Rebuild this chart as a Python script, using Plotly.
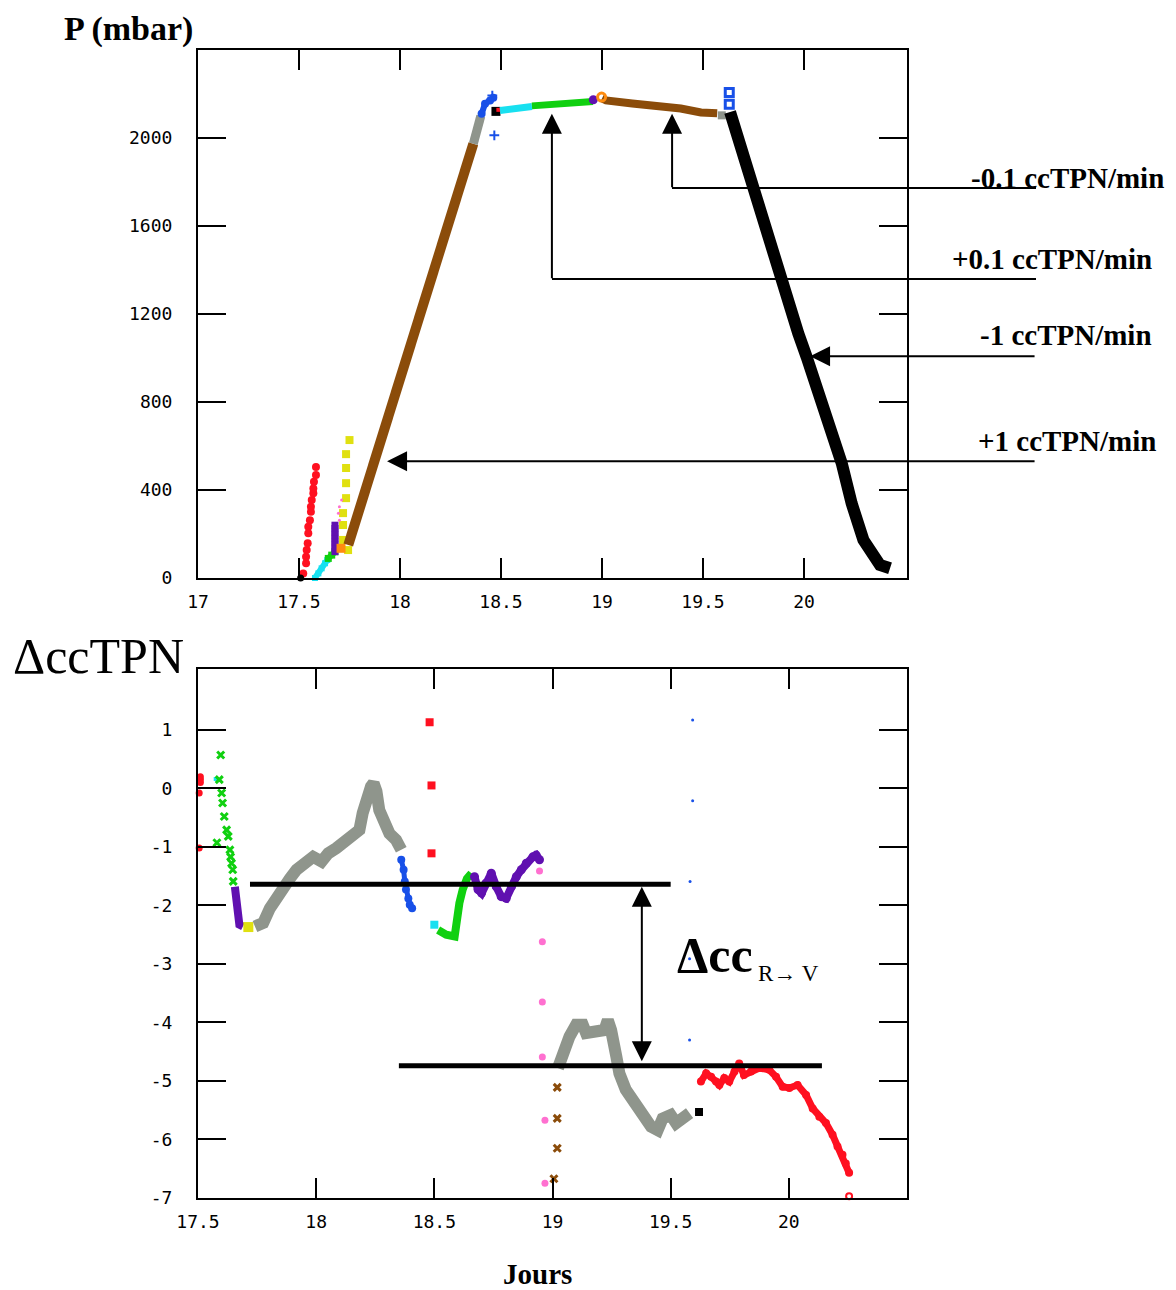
import plotly.graph_objects as go

# ---------------- TOP PANEL DATA (Jours, P mbar) ----------------
top_red_x = [17.521, 17.535, 17.535, 17.538, 17.543, 17.546, 17.546, 17.554, 17.559, 17.559, 17.563, 17.571, 17.571, 17.574, 17.584, 17.584]
top_red_y = [21, 67, 97, 127, 158, 203, 233, 263, 301, 324, 354, 385, 407, 437, 468, 505]
top_black_dot_x = [17.508]
top_black_dot_y = [0]
top_cyan_x = [17.579, 17.596, 17.612, 17.629, 17.640]
top_cyan_y = [0, 21, 44, 67, 82]
top_green_x = [17.645, 17.662, 17.678]
top_green_y = [89, 104, 119]
top_purple_x = [17.678, 17.678, 17.678, 17.678, 17.678, 17.678, 17.678, 17.678, 17.678]
top_purple_y = [120, 135, 150, 165, 180, 195, 210, 225, 240]
top_orange_x = [17.708]
top_orange_y = [135]
top_yellow_x = [17.750, 17.733, 17.733, 17.733, 17.733, 17.718, 17.718, 17.718, 17.743]
top_yellow_y = [627, 563, 500, 431, 363, 295, 241, 173, 127]
top_pink_x = [17.711, 17.700, 17.695, 17.700]
top_pink_y = [354, 324, 294, 263]
top_brown_up_x = [17.744, 17.786, 17.835, 17.885, 17.934, 18.000, 18.066, 18.165, 18.264, 18.363]
top_brown_up_y = [150, 276, 420, 566, 712, 905, 1098, 1392, 1684, 1974]
top_gray_x = [18.363, 18.380, 18.400]
top_gray_y = [1974, 2040, 2100]
top_blue_x = [18.404, 18.421, 18.446, 18.462]
top_blue_y = [2110, 2156, 2171, 2183]
top_blue_plus_x = [18.457, 18.467]
top_blue_plus_y = [2193, 2012]
top_black_sq_x = [18.475]
top_black_sq_y = [2121]
top_red_sq_x = [18.487]
top_red_sq_y = [2128]
top_cyan2_x = [18.495, 18.569, 18.653]
top_cyan2_y = [2125, 2134, 2143]
top_green2_x = [18.653, 18.807, 18.955]
top_green2_y = [2146, 2157, 2166]
top_purple_dot_x = [18.957]
top_purple_dot_y = [2174]
top_orange_circ_x = [18.998]
top_orange_circ_y = [2186]
top_brown_flat_x = [19.000, 19.020, 19.150, 19.270, 19.390, 19.490, 19.570]
top_brown_flat_y = [2180, 2171, 2157, 2148, 2134, 2116, 2112]
top_gray_small_x = [19.593]
top_gray_small_y = [2103]
top_blue_open_x = [19.630, 19.630]
top_blue_open_y = [2207, 2153]
top_black_down_x = [19.634, 19.749, 19.865, 19.972, 20.013, 20.063, 20.137, 20.187, 20.236, 20.294, 20.376, 20.426]
top_black_down_y = [2118, 1770, 1404, 1111, 1005, 873, 672, 521, 339, 173, 59, 44]

# ---------------- BOTTOM PANEL DATA (Jours, Delta ccTPN) ----------------
bot_black_dot_x = [17.495]
bot_black_dot_y = [0.23]
bot_red_x = [17.510, 17.510, 17.510, 17.505, 17.505]
bot_red_y = [0.20, 0.15, 0.10, -0.08, -1.02]
bot_cyan_small_x = [17.575]
bot_cyan_small_y = [0.16]
bot_green_x = [17.596, 17.590, 17.580, 17.600, 17.604, 17.611, 17.621, 17.628, 17.635, 17.638, 17.642, 17.647, 17.649]
bot_green_y = [0.57, 0.15, -0.93, -0.08, -0.25, -0.48, -0.71, -0.82, -1.05, -1.17, -1.28, -1.39, -1.59]
bot_purple_x = [17.656, 17.660, 17.670, 17.675, 17.690]
bot_purple_y = [-1.68, -1.91, -2.13, -2.33, -2.36]
bot_yellow_x = [17.713]
bot_yellow_y = [-2.37]
bot_gray1_x = [17.741, 17.776, 17.804, 17.833, 17.861, 17.889, 17.917, 17.952, 17.987, 18.023, 18.051, 18.086,
               18.121, 18.156, 18.183, 18.197, 18.211, 18.232, 18.243, 18.255, 18.267, 18.289, 18.310, 18.338, 18.360]
bot_gray1_y = [-2.36, -2.30, -2.05, -1.85, -1.68, -1.54, -1.39, -1.25, -1.17, -1.25, -1.11, -1.02,
               -0.91, -0.85, -0.71, -0.42, -0.20, 0.03, 0.09, -0.05, -0.37, -0.59, -0.77, -0.88, -1.05]
bot_blue_x = [18.360, 18.370, 18.375, 18.380, 18.390, 18.396, 18.406]
bot_blue_y = [-1.22, -1.39, -1.59, -1.73, -1.88, -1.99, -2.05]
bot_red_sq_x = [18.480, 18.488, 18.488]
bot_red_sq_y = [1.13, 0.05, -1.11]
bot_cyan_sq_x = [18.500]
bot_cyan_sq_y = [-2.33]
bot_green2_x = [18.516, 18.550, 18.586, 18.593, 18.606, 18.620, 18.638, 18.657]
bot_green2_y = [-2.42, -2.50, -2.53, -2.25, -1.96, -1.73, -1.54, -1.45]
bot_purple2_x = [18.670, 18.685, 18.700, 18.718, 18.741, 18.762, 18.783, 18.804, 18.826, 18.847, 18.868, 18.889, 18.917, 18.931, 18.945]
bot_purple2_y = [-1.51, -1.73, -1.79, -1.62, -1.45, -1.68, -1.85, -1.88, -1.68, -1.51, -1.39, -1.28, -1.17, -1.14, -1.22]
bot_pink_x = [18.945, 18.957, 18.957, 18.957, 18.968, 18.968]
bot_pink_y = [-1.41, -2.62, -3.65, -4.59, -5.67, -6.75]
bot_brown_x = [19.020, 19.020, 19.020, 19.006]
bot_brown_y = [-5.11, -5.64, -6.15, -6.67]
bot_gray2_x = [19.023, 19.044, 19.072, 19.100, 19.128, 19.142, 19.185, 19.220, 19.234, 19.248, 19.270, 19.283,
               19.310, 19.347, 19.382, 19.417, 19.445, 19.466, 19.500, 19.523, 19.550, 19.580]
bot_gray2_y = [-4.78, -4.47, -4.24, -4.04, -4.04, -4.18, -4.18, -4.13, -3.96, -4.13, -4.58, -4.87,
               -5.15, -5.38, -5.55, -5.78, -5.84, -5.64, -5.58, -5.72, -5.64, -5.55]
bot_black_sq_x = [19.620]
bot_black_sq_y = [-5.53]
bot_blue_tiny_x = [19.593, 19.593, 19.582, 19.580, 19.580]
bot_blue_tiny_y = [1.17, -0.21, -1.59, -2.91, -4.30]
bot_red2_x = [19.628, 19.650, 19.671, 19.692, 19.706, 19.727, 19.748, 19.770, 19.790, 19.810, 19.840, 19.875, 19.917,
              19.946, 19.974, 20.002, 20.037, 20.073, 20.101, 20.129, 20.157, 20.185, 20.206, 20.227, 20.241, 20.255]
bot_red2_y = [-5.01, -4.87, -4.93, -5.01, -5.07, -4.95, -5.01, -4.84, -4.70, -4.90, -4.84, -4.78, -4.81,
              -4.93, -5.10, -5.12, -5.07, -5.24, -5.47, -5.61, -5.72, -5.92, -6.12, -6.26, -6.41, -6.57]
bot_red_open_x = [20.255]
bot_red_open_y = [-6.97]

# tick labels
top_xticks = [17, 17.5, 18, 18.5, 19, 19.5, 20]
top_xticktext = ["17", "17.5", "18", "18.5", "19", "19.5", "20"]
top_yticks = [0, 400, 800, 1200, 1600, 2000]
top_yticktext = ["0", "400", "800", "1200", "1600", "2000"]
bot_xticks = [17.5, 18, 18.5, 19, 19.5, 20]
bot_xticktext = ["17.5", "18", "18.5", "19", "19.5", "20"]
bot_yticks = [-7, -6, -5, -4, -3, -2, -1, 0, 1]
bot_yticktext = ["-7", "-6", "-5", "-4", "-3", "-2", "-1", "0", "1"]

# ---------------- FIGURE ----------------
OFF = 8                      # page body margin
W, H = 1176 - OFF, 1290 - OFF
fig = go.Figure()

def px_x(p):
    return (p - OFF) / W

def px_y(p):
    return 1 - (p - OFF) / H

def add(x, y, xa, ya, mode, color, size=8, symbol="circle", lw=0, mlw=0):
    kw = dict(x=x, y=y, xaxis=xa, yaxis=ya, mode=mode, showlegend=False, hoverinfo="skip", cliponaxis=False)
    if "markers" in mode:
        kw["marker"] = dict(color=color, size=size, symbol=symbol, line=dict(width=mlw, color=color))
    if "lines" in mode:
        kw["line"] = dict(color=color, width=lw)
    fig.add_trace(go.Scatter(**kw))

RED = "#ff1020"; CYAN = "#18e0f0"; GREEN = "#10d010"; PURPLE = "#6010b0"; ORANGE = "#ff8c10"
YELLOW = "#e0e010"; PINK = "#ff70d0"; BROWN = "#8b4c0a"; GRAY = "#8f958c"; BLUE = "#1850e8"; BLACK = "#000000"

# top
add(top_red_x, top_red_y, "x", "y", "markers", RED, 8)
add(top_black_dot_x, top_black_dot_y, "x", "y", "markers", BLACK, 7)
add(top_cyan_x, top_cyan_y, "x", "y", "lines+markers", CYAN, 6, "square", lw=6)
add(top_green_x, top_green_y, "x", "y", "lines+markers", GREEN, 7, "square", lw=6)
add(top_purple_x, top_purple_y, "x", "y", "markers", PURPLE, 7, "square")
add(top_yellow_x, top_yellow_y, "x", "y", "markers", YELLOW, 8, "square")
add(top_orange_x, top_orange_y, "x", "y", "markers", ORANGE, 9, "square")
add(top_pink_x, top_pink_y, "x", "y", "markers", PINK, 3)
add(top_brown_up_x, top_brown_up_y, "x", "y", "lines", BROWN, lw=10)
add(top_gray_x, top_gray_y, "x", "y", "lines", GRAY, lw=9)
add(top_blue_x, top_blue_y, "x", "y", "lines+markers", BLUE, 8, lw=6)
add(top_blue_plus_x, top_blue_plus_y, "x", "y", "markers", BLUE, 7, "cross-thin", mlw=2)
add(top_black_sq_x, top_black_sq_y, "x", "y", "markers", BLACK, 9, "square")
add(top_red_sq_x, top_red_sq_y, "x", "y", "markers", RED, 4, "square")
add(top_cyan2_x, top_cyan2_y, "x", "y", "lines", CYAN, lw=7)
add(top_green2_x, top_green2_y, "x", "y", "lines", GREEN, lw=7)
add(top_purple_dot_x, top_purple_dot_y, "x", "y", "markers", PURPLE, 9)
add(top_brown_flat_x, top_brown_flat_y, "x", "y", "lines", BROWN, lw=8)
add(top_orange_circ_x, top_orange_circ_y, "x", "y", "markers", ORANGE, 8, "circle-open", mlw=3)
add(top_gray_small_x, top_gray_small_y, "x", "y", "markers", GRAY, 8, "square")
add(top_blue_open_x, top_blue_open_y, "x", "y", "markers", BLUE, 8, "square-open", mlw=3)
add(top_black_down_x, top_black_down_y, "x", "y", "lines", BLACK, lw=12)

# bottom
add(bot_black_dot_x, bot_black_dot_y, "x2", "y2", "markers", BLACK, 7)
add(bot_red_x, bot_red_y, "x2", "y2", "markers", RED, 7)
add(bot_cyan_small_x, bot_cyan_small_y, "x2", "y2", "markers", CYAN, 4, "square")
add(bot_green_x, bot_green_y, "x2", "y2", "markers", GREEN, 7, "x-thin", mlw=3)
add(bot_purple_x, bot_purple_y, "x2", "y2", "lines", PURPLE, lw=8)
add(bot_yellow_x, bot_yellow_y, "x2", "y2", "markers", YELLOW, 10, "square")
add(bot_gray1_x, bot_gray1_y, "x2", "y2", "lines", GRAY, lw=12)
add(bot_blue_x, bot_blue_y, "x2", "y2", "lines+markers", BLUE, 8, lw=5)
add(bot_red_sq_x, bot_red_sq_y, "x2", "y2", "markers", RED, 8, "square")
add(bot_cyan_sq_x, bot_cyan_sq_y, "x2", "y2", "markers", CYAN, 8, "square")
add(bot_green2_x, bot_green2_y, "x2", "y2", "lines", GREEN, lw=8)
add(bot_purple2_x, bot_purple2_y, "x2", "y2", "lines+markers", PURPLE, 9, lw=8)
add(bot_pink_x, bot_pink_y, "x2", "y2", "markers", PINK, 7)
add(bot_brown_x, bot_brown_y, "x2", "y2", "markers", BROWN, 7, "x-thin", mlw=3)
add(bot_gray2_x, bot_gray2_y, "x2", "y2", "lines", GRAY, lw=12)
add(bot_black_sq_x, bot_black_sq_y, "x2", "y2", "markers", BLACK, 8, "square")
add(bot_blue_tiny_x, bot_blue_tiny_y, "x2", "y2", "markers", BLUE, 3)
add(bot_red2_x, bot_red2_y, "x2", "y2", "lines+markers", RED, 8, lw=7)
add(bot_red_open_x, bot_red_open_y, "x2", "y2", "markers", RED, 6, "circle-open", mlw=2)

tickfont = dict(family="DejaVu Sans Mono", size=18, color="black")
axis_common = dict(showgrid=False, zeroline=False, showline=True, linecolor="black", linewidth=2,
                   mirror="ticks", ticks="inside", tickcolor="black", tickwidth=2, tickfont=tickfont,
                   automargin=False, tickmode="array")

fig.update_layout(
    template="none",
    width=W, height=H, autosize=False,
    margin=dict(l=0, r=0, t=0, b=0, pad=0, autoexpand=False),
    paper_bgcolor="white", plot_bgcolor="white",
    showlegend=False,
    xaxis=dict(domain=[px_x(198), px_x(907)], range=[17, 17 + 709 / 202], anchor="y",
               tickvals=top_xticks, ticktext=top_xticktext, ticklen=20, ticklabelstandoff=6, **axis_common),
    yaxis=dict(domain=[px_y(578), px_y(50)], range=[0, 2400], anchor="x",
               tickvals=top_yticks, ticktext=top_yticktext, ticklen=28, ticklabelstandoff=20, **axis_common),
    xaxis2=dict(domain=[px_x(198), px_x(907)], range=[17.5, 20.5], anchor="y2",
                tickvals=bot_xticks, ticktext=bot_xticktext, ticklen=20, ticklabelstandoff=6, **axis_common),
    yaxis2=dict(domain=[px_y(1198), px_y(669)], range=[-7, 2.04], anchor="x2",
                tickvals=bot_yticks, ticktext=bot_yticktext, ticklen=28, ticklabelstandoff=20, **axis_common),
)

serif = "Liberation Serif"
annotations = []

def label(text, xp, yp, size, bold=False, xanchor="center"):
    t = f"<b>{text}</b>" if bold else text
    annotations.append(dict(text=t, x=px_x(xp), y=px_y(yp), xref="paper", yref="paper",
                            xanchor=xanchor, yanchor="middle", showarrow=False,
                            font=dict(family=serif, size=size, color="black")))

label("P (mbar)", 128, 29, 34, bold=True)
label("ΔccTPN", 98, 656, 50)
label("-0.1 ccTPN/min", 1166, 178, 29, bold=True, xanchor="right")
label("+0.1 ccTPN/min", 1154, 259, 29, bold=True, xanchor="right")
label("-1 ccTPN/min", 1154, 335, 29, bold=True, xanchor="right")
label("+1 ccTPN/min", 1158, 441, 29, bold=True, xanchor="right")
label("Δcc", 675, 955, 50, bold=True, xanchor="left")
label("R→ V", 756, 973, 23, xanchor="left")
label("Jours", 537, 1274, 29, bold=True)

arrow_style = dict(showarrow=True, arrowhead=2, arrowsize=2, arrowwidth=2, arrowcolor="black", text="")

# top arrows (vertical, from corner to tip)
annotations.append(dict(x=19.347, y=2110, xref="x", yref="y", ax=0, ay=75, **arrow_style))
annotations.append(dict(x=18.752, y=2110, xref="x", yref="y", ax=0, ay=166, **arrow_style))
# top arrows (horizontal)
annotations.append(dict(x=20.03, y=1008, xref="x", yref="y", ax=226, ay=0, **arrow_style))
annotations.append(dict(x=17.936, y=531, xref="x", yref="y", ax=649, ay=0, **arrow_style))
# bottom double arrow
annotations.append(dict(x=19.378, y=-1.68, xref="x2", yref="y2", ax=19.378, ay=-4.69, axref="x2", ayref="y2",
                        arrowside="end+start", startarrowhead=2, startarrowsize=2, **arrow_style))

fig.update_layout(annotations=annotations)

shapes = [
    dict(type="line", xref="paper", yref="paper", x0=px_x(672), x1=px_x(1036), y0=px_y(188), y1=px_y(188),
         line=dict(color="black", width=2)),
    dict(type="line", xref="paper", yref="paper", x0=px_x(552), x1=px_x(1036), y0=px_y(279), y1=px_y(279),
         line=dict(color="black", width=2)),
    dict(type="line", xref="x2", yref="y2", x0=17.72, x1=19.50, y0=-1.64, y1=-1.64,
         line=dict(color="black", width=5)),
    dict(type="line", xref="x2", yref="y2", x0=18.35, x1=20.14, y0=-4.74, y1=-4.74,
         line=dict(color="black", width=5)),
]
fig.update_layout(shapes=shapes)

fig.write_html("out.html")
